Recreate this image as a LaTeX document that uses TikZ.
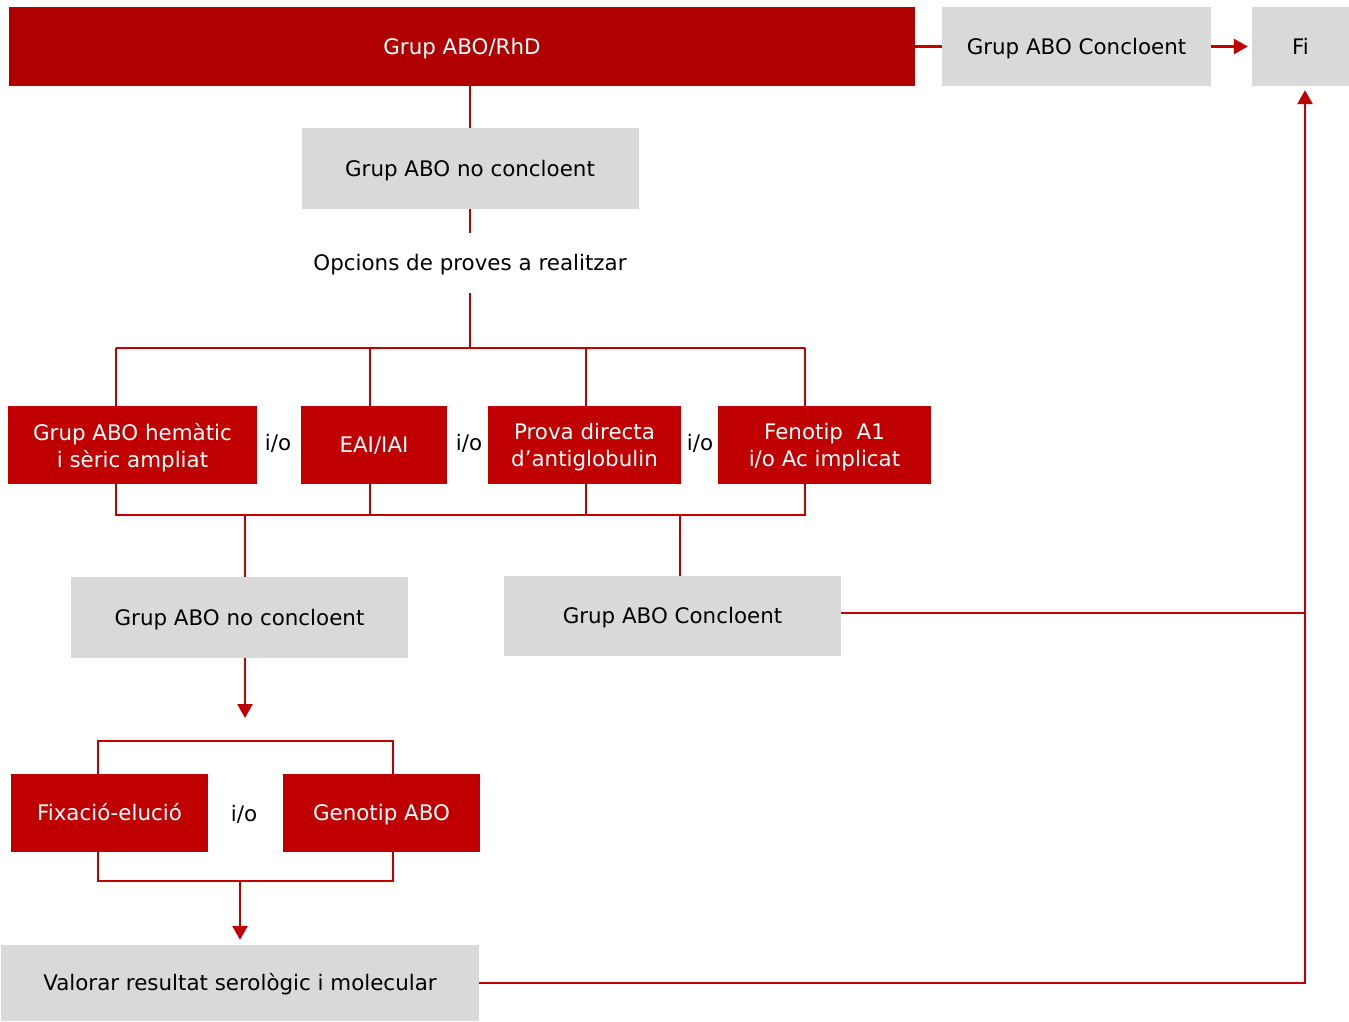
\documentclass[tikz,border=0pt]{standalone}
\usepackage{fontspec}
\setmainfont{DejaVu Sans}
\usetikzlibrary{arrows.meta}
\definecolor{topred}{RGB}{176,0,0}
\definecolor{boxred}{RGB}{192,0,0}
\definecolor{linered}{RGB}{192,0,0}
\definecolor{boxgray}{RGB}{217,217,217}
\begin{document}
\begin{tikzpicture}[x=1pt,y=-1pt,
  every node/.style={font=\fontsize{21.4}{27}\selectfont, inner sep=0pt, align=center},
  sl/.style={text height=17pt, text depth=2pt},
  ml/.style={text depth=0pt},
  redbox/.style={fill=boxred, text=white},
  topbox/.style={fill=topred, text=white},
  graybox/.style={fill=boxgray, text=black},
  plain/.style={text=black},
  ln/.style={draw=linered, line width=2.6pt},
  arr/.style={ln, -{Triangle[length=14pt,width=15pt]}}]
\useasboundingbox (0,0) rectangle (1349,1021);
% nodes
\node[topbox, sl, minimum width=906pt, minimum height=79pt] (top) at (462,46.5) {Grup ABO/RhD};
\node[graybox, sl, minimum width=269pt, minimum height=79pt] (conc1) at (1076.5,46.5) {Grup ABO Concloent};
\node[graybox, sl, minimum width=97pt, minimum height=79pt] (fi) at (1300.5,46.5) {Fi};
\node[graybox, sl, minimum width=337pt, minimum height=81pt] (nc1) at (470,168.5) {Grup ABO no concloent};
\node[plain, sl, minimum height=60pt] (opc) at (470,263) {Opcions de proves a realitzar};
\node[redbox, ml, minimum width=249pt, minimum height=78pt] (b1) at (132.5,445) {Grup ABO hemàtic\\i sèric ampliat};
\node[redbox, sl, minimum width=146pt, minimum height=78pt] (b2) at (374,445) {EAI/IAI};
\node[redbox, ml, minimum width=193pt, minimum height=78pt] (b3) at (584.5,445) {Prova directa\\d’antiglobulin};
\node[redbox, ml, minimum width=213pt, minimum height=78pt] (b4) at (824.5,445) {Fenotip\ \ A1\\i/o Ac implicat};
\node[plain, sl] (io1) at (278,443) {i/o};
\node[plain, sl] (io2) at (469,443) {i/o};
\node[plain, sl] (io3) at (700,443) {i/o};
\node[graybox, sl, minimum width=337pt, minimum height=81pt] (nc2) at (239.5,617.5) {Grup ABO no concloent};
\node[graybox, sl, minimum width=337pt, minimum height=80pt] (conc2) at (672.5,616) {Grup ABO Concloent};
\node[redbox, sl, minimum width=197pt, minimum height=78pt] (fix) at (109.5,813) {Fixació-elució};
\node[redbox, sl, minimum width=197pt, minimum height=78pt] (gen) at (381.5,813) {Genotip ABO};
\node[plain, sl] (io4) at (244,814) {i/o};
\node[graybox, sl, minimum width=478pt, minimum height=76pt] (val) at (240,983) {Valorar resultat serològic i molecular};
% coordinates
\coordinate (t1) at (116,348);
\coordinate (t2) at (370,348);
\coordinate (t3) at (586,348);
\coordinate (t4) at (805,348);
\coordinate (u1) at (116,515);
\coordinate (u2) at (370,515);
\coordinate (u3) at (586,515);
\coordinate (u4) at (805,515);
\coordinate (ua) at (245,515);
\coordinate (ub) at (680,515);
\coordinate (ar1) at (245,718);
\coordinate (f1) at (98,741);
\coordinate (f2) at (393,741);
\coordinate (g1) at (98,881);
\coordinate (g2) at (393,881);
\coordinate (gm) at (240,881);
\coordinate (rc) at (1305,613);
\coordinate (rb) at (1305,983);
% connectors
\draw[ln] (top.south -| nc1.north) -- (nc1.north);
\draw[ln] (top.east) -- (conc1.west);
\draw[arr, shorten >=4pt] (conc1.east) -- (fi.west);
\draw[ln] (nc1.south) -- (opc.north);
\draw[ln] (opc.south) -- (opc.south |- t1);
\draw[ln] (t1) -- (t4);
\draw[ln] (t1) -- (b1.north -| t1);
\draw[ln] (t2) -- (b2.north -| t2);
\draw[ln] (t3) -- (b3.north -| t3);
\draw[ln] (t4) -- (b4.north -| t4);
\draw[ln] (b1.south -| u1) -- (u1) -- (u4) -- (b4.south -| u4);
\draw[ln] (b2.south -| u2) -- (u2);
\draw[ln] (b3.south -| u3) -- (u3);
\draw[ln] (ua) -- (nc2.north -| ua);
\draw[ln] (ub) -- (conc2.north -| ub);
\draw[ln] (conc2.east |- rc) -- (rc);
\draw[arr] (nc2.south -| ar1) -- (ar1);
\draw[ln] (fix.north -| f1) -- (f1) -- (f2) -- (gen.north -| f2);
\draw[ln] (fix.south -| g1) -- (g1) -- (g2) -- (gen.south -| g2);
\draw[arr, shorten >=5pt] (gm) -- (val.north -| gm);
\draw[arr, shorten >=4pt] (val.east) -- (rb) -- (fi.south -| rb);
\end{tikzpicture}
\end{document}
